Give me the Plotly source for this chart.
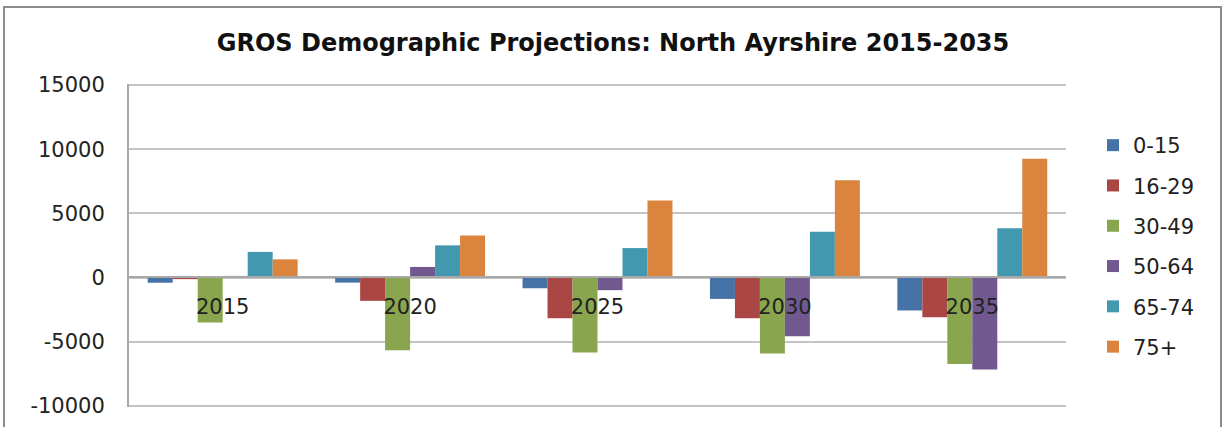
import plotly.graph_objects as go

years = ["2015", "2020", "2025", "2030", "2035"]
age_groups = ["0-15", "16-29", "30-49", "50-64", "65-74", "75+"]
v_0_15 = [-400, -390, -830, -1660, -2560]
v_16_29 = [-120, -1810, -3160, -3160, -3080]
v_30_49 = [-3500, -5650, -5830, -5910, -6740]
v_50_64 = [130, 830, -980, -4560, -7150]
v_65_74 = [2000, 2510, 2300, 3580, 3840]
v_75p = [1420, 3270, 6010, 7590, 9250]
series = [v_0_15, v_16_29, v_30_49, v_50_64, v_65_74, v_75p]
colors = ["#4572A7", "#AA4643", "#89A54E", "#71588F", "#4198AF", "#DB843D"]
y_ticks = [-10000, -5000, 0, 5000, 10000, 15000]

W, H = 1223, 427
L, T = 129, 84
PR, PB = 1066, 407
R, B = W - PR, H - PB

fig = go.Figure()
for name, vals, col in zip(age_groups, series, colors):
    fig.add_trace(go.Bar(x=years, y=vals, name=name, marker_color=col,
                         marker_line_width=0, legendgroup=name))

pw, ph = PR - L, PB - T
def px_x(p):
    return (p - L) / pw
def px_y(p):
    return (PB - p) / ph

fig.update_layout(
    width=W, height=H,
    margin=dict(l=L, r=R, t=T, b=B, autoexpand=False),
    paper_bgcolor="white", plot_bgcolor="white",
    barmode="group", bargap=0.2, bargroupgap=0,
    font=dict(family="DejaVu Sans", size=20, color="#222222"),
    title=dict(text="<b>GROS Demographic Projections: North Ayrshire 2015-2035</b>",
               x=613 / W, xanchor="center", xref="container",
               y=1 - 43 / H, yanchor="middle", yref="container",
               font=dict(family="DejaVu Sans", size=24, color="#111111")),
    xaxis=dict(anchor="free", position=px_y(277), showline=True, linecolor="#A8A8A8",
               linewidth=1.5, ticks="", showgrid=False, ticklabelstandoff=11,
               tickfont=dict(size=21, color="#222222")),
    yaxis=dict(range=[-10080, 15080], tickvals=y_ticks, ticktext=[str(v) for v in y_ticks],
               showgrid=True, gridcolor="#C4C4C4", gridwidth=1.5, zeroline=False,
               showline=True, linecolor="#A8A8A8", linewidth=2, ticks="",
               ticklabelstandoff=18, tickfont=dict(size=21, color="#222222")),
    legend=dict(x=px_x(1093), xanchor="left", y=px_y(246), yanchor="middle",
                tracegroupgap=10, font=dict(size=21, color="#222222"),
                bgcolor="rgba(0,0,0,0)", itemwidth=30),
    showlegend=True,
)

fig.add_shape(type="rect", xref="paper", yref="paper",
              x0=px_x(4), x1=px_x(1221), y0=px_y(440), y1=px_y(7),
              line=dict(color="#8C8C8C", width=2), fillcolor="rgba(0,0,0,0)", layer="below")

fig.write_html("out.html", config={"displayModeBar": False},
               post_script="document.body.style.margin='0px';")
